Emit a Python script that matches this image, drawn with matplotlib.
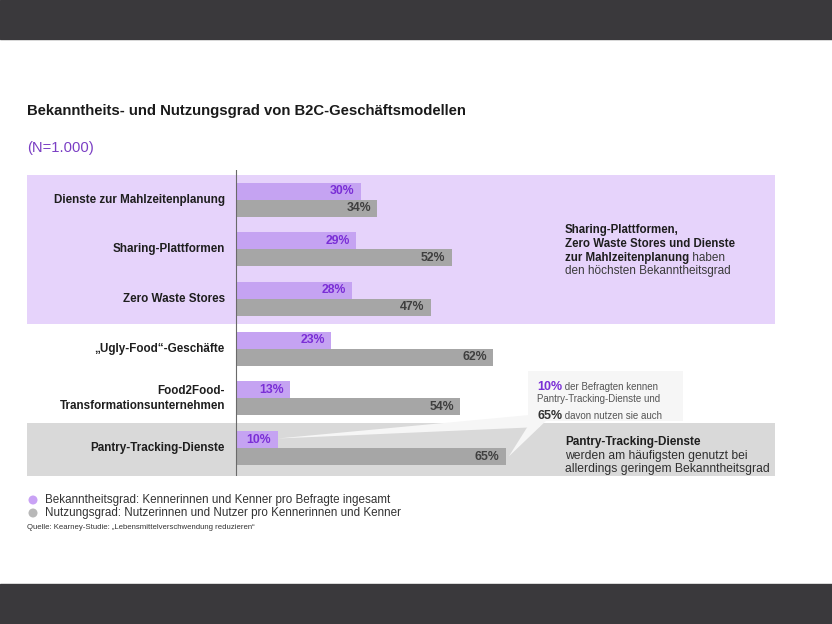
import matplotlib
matplotlib.use('Agg')
import matplotlib.pyplot as plt
from matplotlib import font_manager as fm
from matplotlib.patches import Rectangle, Polygon, Circle
from matplotlib.transforms import IdentityTransform
import numpy as np

# ---------------- data ----------------
categories = ["Dienste zur Mahlzeitenplanung", "Sharing-Plattformen", "Zero Waste Stores",
              "\u201eUgly-Food\u201c-Geschäfte", "Food2Food-\nTransformationsunternehmen",
              "Pantry-Tracking-Dienste"]
bekanntheit = [30, 29, 28, 23, 13, 10]
nutzung = [34, 52, 47, 62, 54, 65]
legend_labels = ["Bekanntheitsgrad: Kennerinnen und Kenner pro Befragte ingesamt",
                 "Nutzungsgrad: Nutzerinnen und Nutzer pro Kennerinnen und Kenner"]

# ---------------- style ----------------
avail = {f.name for f in fm.fontManager.ttflist}
BASE = 'Liberation Sans' if 'Liberation Sans' in avail else 'DejaVu Sans'
plt.rcParams['font.family'] = [BASE, 'DejaVu Sans']

PURPLE_BAND = '#e6d3fb'
GRAY_BAND = '#d9d9d9'
PURPLE_BAR = '#c5a3f2'
GRAY_BAR = '#a6a6a6'
PURPLE_TXT = '#7a2ed6'
GRAY_TXT = '#3f3f3f'
DARK = '#3a393c'
CALLOUT = '#f6f6f6'

W, H = 832, 624
fig = plt.figure(figsize=(W / 100, H / 100), dpi=100)
fig.patch.set_facecolor('white')


def fx(px):
    return px / W


def fy(py):
    return 1 - py / H


# dark frame bands
fig.patches.append(Rectangle((0, H - 39), W, 39, transform=IdentityTransform(),
                             color=DARK, zorder=0))
fig.patches.append(Rectangle((0, 0), W, 40, transform=IdentityTransform(),
                             color=DARK, zorder=0))

# ---------------- main axes ----------------
AX_L, AX_R, AX_T, AX_B = 27, 775, 170, 476
ZERO = 236
PXPCT = 4.15
ax = fig.add_axes([fx(AX_L), fy(AX_B), (AX_R - AX_L) / W, (AX_B - AX_T) / H])
ax.set_xlim(-(ZERO - AX_L) / PXPCT, (AX_R - ZERO) / PXPCT)
ax.set_ylim(5.563, -0.594)
ax.axis('off')

ax.axhspan(-0.5, 2.5, color=PURPLE_BAND, zorder=0, lw=0)
ax.axhspan(4.5, 6, color=GRAY_BAND, zorder=0, lw=0)
ax.axvline(0, color='#6a6a6a', lw=0.8, zorder=3)

y = np.arange(len(categories))
bh = 0.342
ax.barh(y - bh / 2, bekanntheit, height=bh, color=PURPLE_BAR, zorder=2, lw=0)
ax.barh(y + bh / 2, nutzung, height=bh, color=GRAY_BAR, zorder=2, lw=0)

for i, (b, n) in enumerate(zip(bekanntheit, nutzung)):
    ax.annotate(f'{b}%', xy=(b, i - bh / 2), xytext=(-4.5, 0), textcoords='offset points',
                ha='right', va='center', fontsize=8.8, fontweight='bold', color=PURPLE_TXT, zorder=5)
    ax.annotate(f'{n}%', xy=(n, i + bh / 2), xytext=(-4.5, 0), textcoords='offset points',
                ha='right', va='center', fontsize=8.8, fontweight='bold', color=GRAY_TXT, zorder=5)
    ax.annotate(categories[i], xy=(0, i), xytext=(-8, 0), textcoords='offset points',
                ha='right', va='center', multialignment='right', fontsize=8.35,
                fontweight='bold', color='#1e1e1e', linespacing=1.35)

# ---------------- titles ----------------
fig.canvas.draw()
renderer = fig.canvas.get_renderer()

title = fig.text(fx(27), fy(115), 'Bekanntheits- und Nutzungsgrad von B2C-Geschäftsmodellen',
                 color='#1a1a1a', va='baseline', ha='left', fontweight='bold')
title.set_fontsize(10)
tw = title.get_window_extent(renderer).width
title.set_fontsize(max(9, min(12.5, 10 * 443 / tw)))

sub = fig.text(fx(27), fy(152), '(N=1.000)', color='#7b3fc4', va='baseline', ha='left')
sub.set_fontsize(10)
sw = sub.get_window_extent(renderer).width
sub.set_fontsize(max(9, min(11.5, 10 * 66 / sw)))

# ---------------- callout ----------------
tip1 = ax.transData.transform((bekanntheit[5], 5 - bh / 2))
tip2 = ax.transData.transform((nutzung[5], 5 + bh / 2))

fig.patches.append(Rectangle((528, H - 421), 155, 50, transform=IdentityTransform(),
                             color=CALLOUT, zorder=1, lw=0))
fig.patches.append(Polygon([(tip1[0], tip1[1] + 1), (540, H - 414), (540, H - 427)],
                           closed=True, transform=IdentityTransform(), color=CALLOUT,
                           zorder=1, lw=0))
fig.patches.append(Polygon([(533, H - 418), (549, H - 418), (tip2[0] + 3, tip2[1])],
                           closed=True, transform=IdentityTransform(), color=CALLOUT,
                           zorder=1, lw=0))


def runs(x, ybase, parts):
    for txt, kw in parts:
        t = fig.text(fx(x), fy(ybase), txt, va='baseline', ha='left', zorder=4, **kw)
        bb = t.get_window_extent(renderer)
        x = bb.x1


B8 = dict(fontsize=8.3, fontweight='bold', color='#1e1e1e')
R8 = dict(fontsize=8.5, color='#3a3a3a')
runs(565, 233, [('Sharing-Plattformen,', B8)])
runs(565, 247, [('Zero Waste Stores und Dienste', B8)])
runs(565, 261, [('zur Mahlzeitenplanung', B8), (' haben', R8)])
runs(565, 274, [('den höchsten Bekanntheitsgrad', R8)])

B9 = dict(fontsize=8.5, fontweight='bold', color='#1e1e1e')
R9 = dict(fontsize=8.7, color='#2f2f2f')
runs(565, 445, [('Pantry-Tracking-Dienste', B9)])
runs(565, 459, [('werden am häufigsten genutzt bei', R9)])
runs(565, 472, [('allerdings geringem Bekanntheitsgrad', R9)])

S = dict(fontsize=7, color='#555555')
runs(537, 390, [('10%', dict(fontsize=9, fontweight='bold', color=PURPLE_TXT)),
                (' der Befragten kennen', S)])
runs(537, 402, [('Pantry-Tracking-Dienste und', S)])
runs(537, 419, [('65%', dict(fontsize=9, fontweight='bold', color='#333333')),
                (' davon nutzen sie auch', S)])

# ---------------- legend & source ----------------
for k, (lab, col) in enumerate(zip(legend_labels, ['#c9a2f5', '#b8b8b8'])):
    yy = 500 + 13 * k
    fig.patches.append(Circle((33, H - yy), 4.5, transform=IdentityTransform(),
                              color=col, zorder=2, lw=0))
    fig.text(fx(45), fy(yy), lab, fontsize=8.4, color='#333333', va='center', ha='left')

fig.text(fx(27), fy(529), 'Quelle: Kearney-Studie: \u201eLebensmittelverschwendung reduzieren\u201c',
         fontsize=5.6, color='#333333', va='baseline', ha='left')

fig.savefig('out.png', dpi=100)
